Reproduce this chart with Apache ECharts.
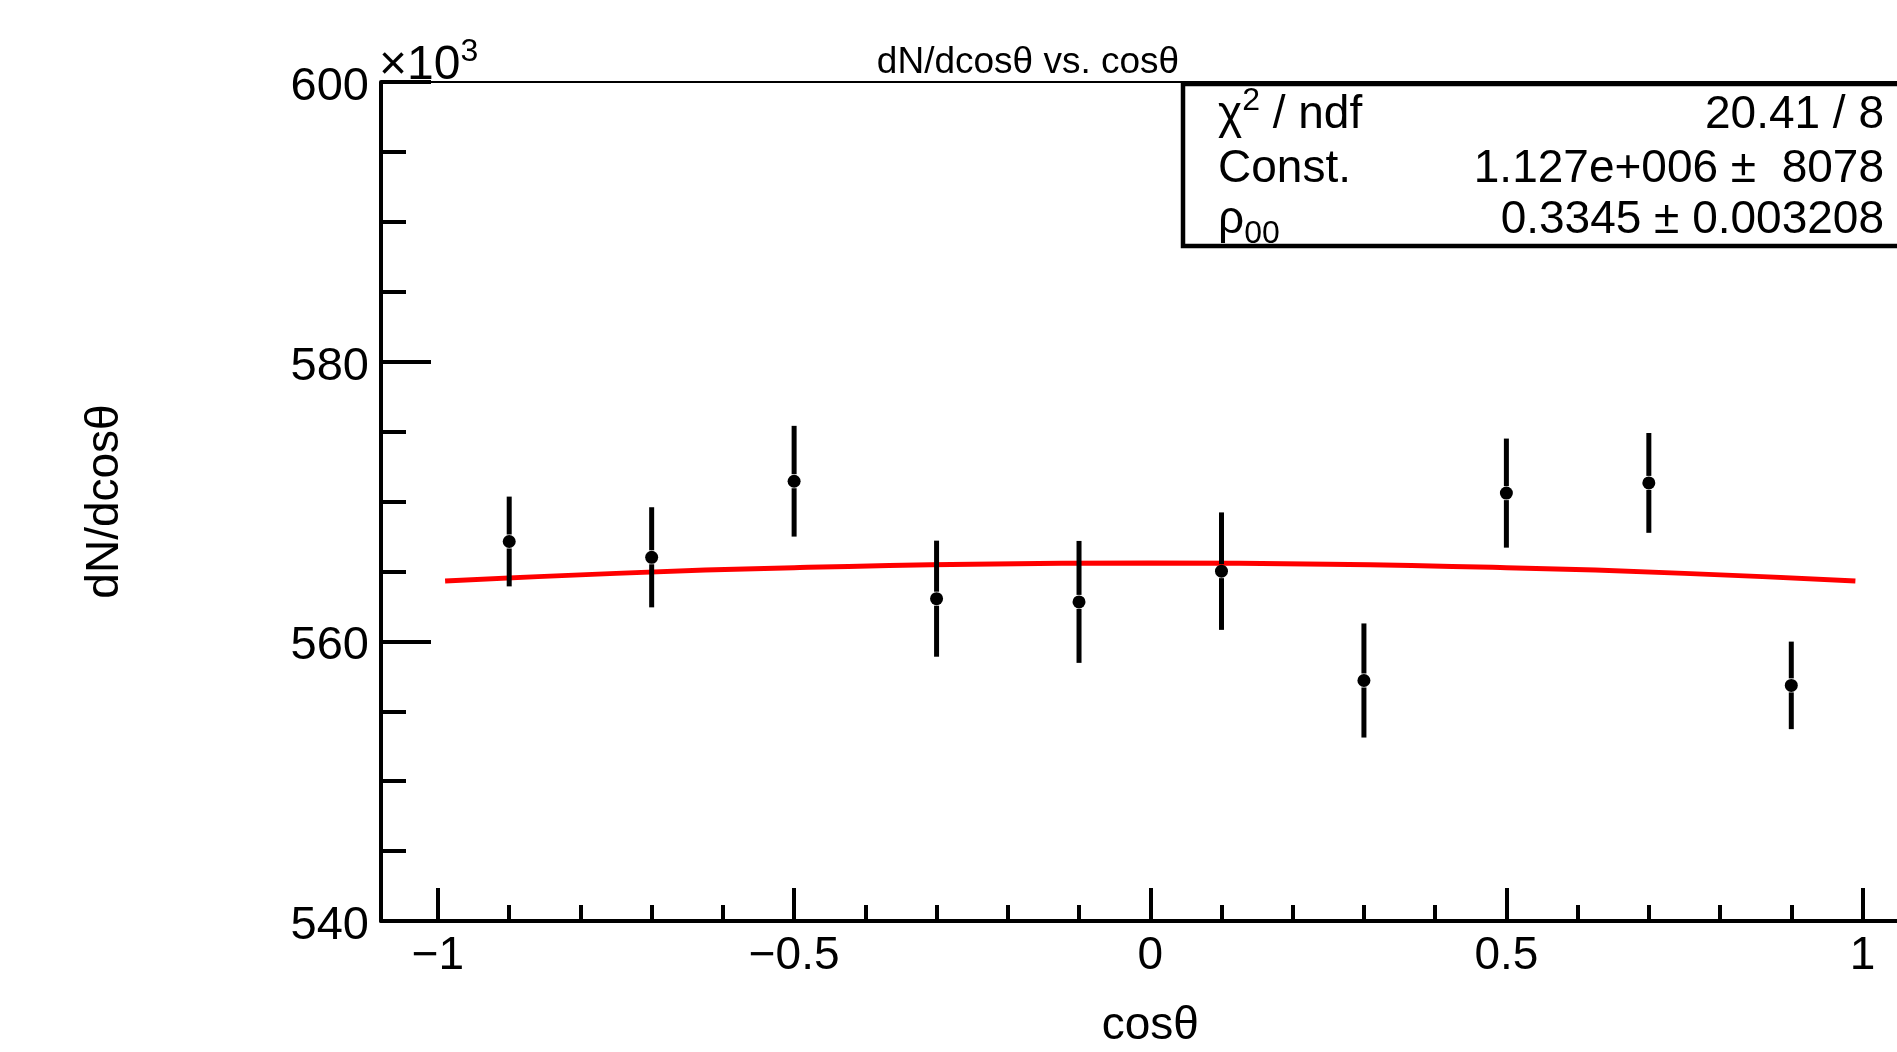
<!DOCTYPE html>
<html>
<head>
<meta charset="utf-8">
<title>dN/dcosθ vs. cosθ</title>
<script src="https://cdn.jsdelivr.net/npm/echarts@6/dist/echarts.min.js"></script>
<style>
  html, body { margin: 0; padding: 0; background: #fff; }
  #chart { width: 1897px; height: 1052px; }
</style>
</head>
<body>
<div id="chart"></div>
<script>
// bin centres and measured values (y in units of 10^3)
const cosTheta = [-0.9, -0.7, -0.5, -0.3, -0.1, 0.1, 0.3, 0.5, 0.7, 0.9];
const counts = [567.14, 566.01, 571.45, 563.05, 562.82, 565.02, 557.2, 570.6, 571.33, 556.85];
const countErrs = [3.21, 3.58, 3.96, 4.15, 4.36, 4.2, 4.08, 3.9, 3.57, 3.13];

// fit curve
const fitX = [-0.99, -0.75, -0.5, -0.25, 0, 0.25, 0.5, 0.75, 0.99];
const fitY = [564.31, 564.86, 565.27, 565.52, 565.6, 565.52, 565.27, 564.86, 564.31];

// axis ticks
const xMajorTicks = [-1, -0.5, 0, 0.5, 1];
const xMinorTicks = [-0.9, -0.8, -0.7, -0.6, -0.4, -0.3, -0.2, -0.1, 0.1, 0.2, 0.3, 0.4, 0.6, 0.7, 0.8, 0.9];

// fit results box
const statsRows = [
    ['{m|χ}{sup|2}{m| / ndf}', '20.41 / 8'],
    ['{m|Const.}', '1.127e+006 ±  8078'],
    ['{m|ρ}{sub|00}', '0.3345 ± 0.003208']
];

const FONT = 'Liberation Sans';
const chart = echarts.init(document.getElementById('chart'));

const minus = v => (v < 0 ? '\u2212' + Math.abs(v) : String(v));

const commonX = {
    type: 'value',
    min: -1.08,
    max: 1.08,
    splitLine: { show: false }
};

const rich = {
    m: { fontSize: 46, fontFamily: FONT, color: '#000', lineHeight: 60 },
    sup: { fontSize: 32, fontFamily: FONT, color: '#000', lineHeight: 26, verticalAlign: 'top' },
    sub: { fontSize: 32, fontFamily: FONT, color: '#000', lineHeight: 24, verticalAlign: 'bottom' }
};

const statsGraphics = [{
    type: 'rect',
    shape: { x: 1183, y: 84, width: 800, height: 162 },
    style: { fill: '#fff', stroke: '#000', lineWidth: 4.5 },
    z: 10
}];
const rowY = [115, 169, 220];
statsRows.forEach((row, i) => {
    statsGraphics.push({
        type: 'text', x: 1218, y: rowY[i], z: 11,
        style: { text: row[0], rich: rich, align: 'left', verticalAlign: 'middle' }
    });
    statsGraphics.push({
        type: 'text', x: 1884, y: rowY[i], z: 11,
        style: { text: row[1], fontSize: 46, fontFamily: FONT, fill: '#000', align: 'right', verticalAlign: 'middle' }
    });
});

const option = {
    animation: false,
    backgroundColor: '#fff',
    grid: {
        left: 381,
        top: 82,
        width: 1538.5,
        height: 839,
        containLabel: false,
        outerBoundsMode: 'none'
    },
    xAxis: [
        Object.assign({}, commonX, {
            position: 'bottom',
            name: 'cosθ',
            nameLocation: 'middle',
            nameGap: 82,
            nameTextStyle: { fontSize: 46, fontFamily: FONT, color: '#000' },
            axisLine: { show: true, onZero: false, lineStyle: { color: '#000', width: 4 } },
            axisTick: { show: true, inside: true, length: 33, lineStyle: { color: '#000', width: 4 }, customValues: xMajorTicks },
            axisLabel: { show: true, margin: 12, fontSize: 46, fontFamily: FONT, color: '#000', customValues: xMajorTicks, formatter: minus }
        }),
        Object.assign({}, commonX, {
            position: 'bottom',
            axisLine: { show: false, onZero: false },
            axisTick: { show: true, inside: true, length: 16, lineStyle: { color: '#000', width: 4 }, customValues: xMinorTicks },
            axisLabel: { show: false }
        }),
        Object.assign({}, commonX, {
            position: 'top',
            axisLine: { show: true, onZero: false, lineStyle: { color: '#000', width: 2 } },
            axisTick: { show: false },
            axisLabel: { show: false }
        })
    ],
    yAxis: {
        type: 'value',
        min: 540,
        max: 600,
        interval: 20,
        name: 'dN/dcosθ',
        nameLocation: 'middle',
        nameRotate: 90,
        nameGap: 253,
        nameTextStyle: { fontSize: 46, fontFamily: FONT, color: '#000' },
        splitLine: { show: false },
        axisLine: { show: true, onZero: false, lineStyle: { color: '#000', width: 4 } },
        axisTick: { show: true, inside: true, length: 50, lineStyle: { color: '#000', width: 4 } },
        minorTick: { show: true, splitNumber: 4, length: 25, lineStyle: { color: '#000', width: 4 } },
        axisLabel: { margin: 12, fontSize: 47, fontFamily: FONT, color: '#000', verticalAlign: 'top', lineHeight: 10 }
    },
    graphic: [
        {
            type: 'text', x: 1028, y: 63,
            style: { text: 'dN/dcosθ vs. cosθ', fontSize: 37, fontFamily: FONT, fill: '#000', align: 'center', verticalAlign: 'middle' }
        },
        {
            type: 'text', x: 379, y: 66,
            style: {
                text: '{m|×10}{sup|3}',
                rich: {
                    m: { fontSize: 48, fontFamily: FONT, color: '#000', lineHeight: 60 },
                    sup: { fontSize: 32, fontFamily: FONT, color: '#000', lineHeight: 24, verticalAlign: 'top' }
                },
                align: 'left',
                verticalAlign: 'middle'
            }
        }
    ].concat(statsGraphics),
    series: [
        {
            name: 'fit',
            type: 'line',
            xAxisIndex: 0,
            data: fitX.map((x, i) => [x, fitY[i]]),
            smooth: true,
            showSymbol: false,
            lineStyle: { color: '#ff0000', width: 5 },
            z: 2
        },
        {
            name: 'errors',
            type: 'custom',
            xAxisIndex: 0,
            data: cosTheta.map((x, i) => [x, counts[i], countErrs[i]]),
            renderItem: (params, api) => {
                const x = api.value(0);
                const y = api.value(1);
                const e = api.value(2);
                const c = api.coord([x, y]);
                const hi = api.coord([x, y + e]);
                const lo = api.coord([x, y - e]);
                const gap = 7;
                const st = { stroke: '#000', lineWidth: 5 };
                return {
                    type: 'group',
                    children: [
                        { type: 'line', shape: { x1: c[0], y1: hi[1], x2: c[0], y2: c[1] - gap }, style: st },
                        { type: 'line', shape: { x1: c[0], y1: c[1] + gap, x2: c[0], y2: lo[1] }, style: st }
                    ]
                };
            },
            z: 3
        },
        {
            name: 'data',
            type: 'scatter',
            xAxisIndex: 0,
            data: cosTheta.map((x, i) => [x, counts[i]]),
            symbol: 'circle',
            symbolSize: 13,
            itemStyle: { color: '#000', opacity: 1 },
            z: 4
        }
    ]
};

chart.setOption(option);
</script>
</body>
</html>
